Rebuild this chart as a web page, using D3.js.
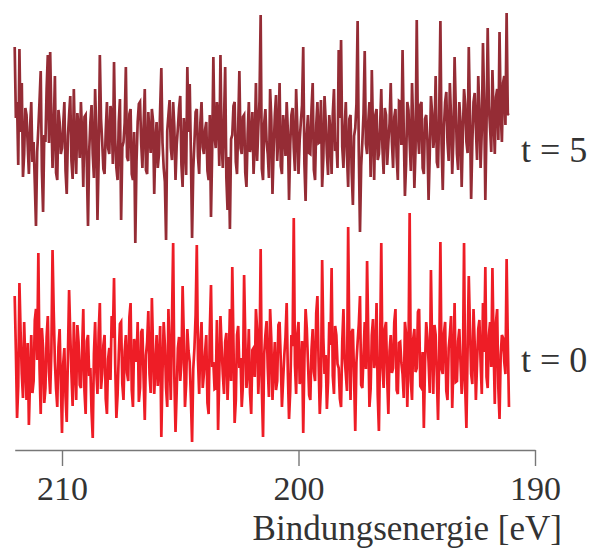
<!DOCTYPE html>
<html>
<head>
<meta charset="utf-8">
<script src="https://cdn.jsdelivr.net/npm/d3@7"></script>
<style>
  body { margin: 0; background: #fff; }
  text { font-family: "Liberation Serif", "Times New Roman", serif; fill: #333; }
</style>
</head>
<body>
<div id="chart"></div>
<script>
// binding energy grid: starts at 212.0 eV, 0.05 eV steps going down
const eStart = 212.0, eStep = 0.05;

// intensities (arb. units), one value per step
const t0Values = [
  184,129, 62, 94,197,148,106, 82,158,116, 80,137, 55,102,145, 87, 99,160,171,120,227,112, 66,152,132, 77, 92,143,164,108, 86,128,230,168,118, 91, 73,133,151, 98,
   47,116,132, 83, 58,124,190,146,106, 74,158,115, 80,155,138, 95, 92,130,171, 89, 66,139,145,104,112, 68, 42,126,158,109, 86,147,177, 91,106,135,145, 81, 66,121,
  132,100,164,142,202,115, 62, 85,125,156,158, 96, 80,129,145,107, 99,163,177, 90, 73,141,132,118,158, 78, 92,148,151,102, 60,125,138,169,106, 87,182,132, 86,113,
  145, 94,118,154, 43,108,158,135, 92, 73,171,124, 80,159,237,103, 48, 89,132,143, 99,117,194,145, 73, 96,151,129,118, 82, 38,111,132,165,235,120, 86,138,158, 92,
  106,128,145, 77, 66,150,195,113,118, 91, 92,160, 50,106,164,133,106, 86,138,147, 80,116,171, 99,213,137, 57, 80,145,154,112,122, 73, 95,205,142, 92,109,151, 87,
   66,130,132,103,171,151, 86,117,231, 92, 43,126,145,159,112, 83,171,141, 80,112,138, 90, 99,155,158,120, 73,100,125,143,177,107, 61, 89,145,134,262,115, 86,146,
  158, 96,106,139, 47,121,171,152,118, 85, 80,130,151,108, 99,167,184,117, 66, 94,220,142,106,125, 71, 98,158,135,212,104, 86,154,145,116,112, 81, 73,138,171,122,
  106, 89,253,133, 80,148,151,103, 49,118,138,156,184, 95, 92,126,158,111,219,145, 73, 91,145,161,112,120,177, 85, 49,132,237,113, 92,151,158,102, 66,129,145,107,
  112,158,171, 90, 86,137,138,117,106, 82,158,146, 73,124,267, 99, 80,141,151,108,112,168,171, 94, 92,128, 52,116,158,143,118, 87,210,133, 86,155,145,104, 60,122,
  238,111,106,147,158, 89, 80,132,145,164, 72,115,177, 98, 99,139,151,118, 86,107,237, 91, 52,130,204,152,106, 96,171,137, 80,117,151,160,118, 86,177,128,213,103,
   92,145,158,113,212,133, 76,158,171, 92, 61,125,145,142,118,106,221,139, 73
];
const t5Values = [
  213,142,158, 95,211,128,177, 83,106,152,145,115, 86,133,158, 98,118, 77, 34,108,132,159,189, 90, 48,125,118,171,205,117,208,146, 92,130,184, 87, 80,150,138,106,
  112,135,158, 89, 66,124,145,164, 99, 81,171,116, 86,147,132,102,158,126, 73,143,145, 94, 34,109,138,155,106, 82,171,130, 40,100,205,141,118, 91, 86,129,158,112,
  106,154,145, 96,198,121, 92, 80,138,161, 40,113,118,137,193,103, 99,146,151, 86, 80,128, 17, 98,138,156,158,116, 92,134,171, 90, 86,148,125,107,151,139, 66,120,
  138, 92,106,151,192,117, 92, 78, 20,129,145,160,112,100,158,133, 80,115,132,152,164, 95, 73,142,118, 85,193,128,176,107, 22, 91,118,148,151,103, 86,137,158,113,
  106,130,138, 89, 80,145, 43,109,203,124,112,158,145, 94,205,117, 92,139,193, 82, 50,103, 31,121,125,154,158, 98, 86,133,189,112,106,143,145, 87, 73,126,158,108,
  118,148, 86,116,177, 99,132,159,245, 91, 80,137,151,118,106, 82,171,141, 66,111,145,165, 99,125,177, 94, 86,145,132,104,158,129, 60,115,145,152,112, 89,171,134,
   86,120,138,155,213, 96, 59,126,145,107,106,151,177, 90, 80,135,158,117,118,160, 73,102,164,139,106, 85,145,128, 86,146,171,109,118, 92,210,142,220,113, 92,132,
  158,104, 73,141,145, 87, 55,124,132,156,239,108, 28, 94,118,147,209,116,106,138,158, 83,190,128, 80,145,151,100,106,133,171,112, 86,152,145, 95,118,137,177,118,
   92,143,151,103, 80,159,158,115,210,130, 64, 96,158,150,118, 89,177,135, 72,112,240,126,106,155,158, 92, 86,141,145,120, 60,106,164,147,112,125,184, 98, 92,148,
  239,116, 70,133,158,168,118, 99,177,143, 86,121,203,152,106, 90,158,138, 73,128,171,156,118,107,213,145, 61,117,158,167,132,100,184,150, 92,129,217,159, 60,134,
  232,154,132,108,190,143,106,163,171,120,228,148,118,177,184,135,247,146,145
];
const seriesNames = ["t = 0", "t = 5"];
const seriesColors = ["#ee1d26", "#952c35"];
const seriesOffsets = [0, 220];
const tickValues = [210, 200, 190];
const xTitle = "Bindungsenergie [eV]";

const W = 602, H = 549, axisY = 450;

const svg = d3.select("#chart").append("svg")
  .attr("width", W).attr("height", H);

const x = d3.scaleLinear().domain([212, 190]).range([14.7, 535]);
const y = d3.scaleLinear().domain([0, 480]).range([480, 0]);

const series = [t0Values, t5Values].map((vals, k) => ({
  name: seriesNames[k],
  color: seriesColors[k],
  points: vals.map((v, i) => ({e: eStart - i * eStep, v: v + seriesOffsets[k]}))
}));

const line = d3.line()
  .x(d => x(d.e))
  .y(d => y(d.v));

svg.selectAll(".spec")
  .data(series)
  .enter().append("path")
  .attr("class", "spec")
  .attr("d", d => line(d.points))
  .attr("fill", "none")
  .attr("stroke", d => d.color)
  .attr("stroke-width", 2.7);

// series labels on the right
svg.selectAll(".lbl")
  .data(series)
  .enter().append("text")
  .attr("class", "lbl")
  .attr("x", 521)
  .attr("y", (d, k) => k === 0 ? 372 : 162)
  .style("font-size", "36px")
  .text(d => d.name);

// x axis
const xAxis = d3.axisBottom(x)
  .tickValues(tickValues)
  .tickSize(16)
  .tickSizeOuter(0)
  .tickFormat(d3.format("d"));

const gx = svg.append("g")
  .attr("transform", `translate(0,${axisY})`)
  .call(xAxis);
gx.select(".domain").attr("stroke", "#777").attr("stroke-width", 1.4);
gx.selectAll(".tick line").attr("stroke", "#777").attr("stroke-width", 1.4);
gx.selectAll(".tick text")
  .attr("y", 50).attr("dy", null)
  .style("font-size", "34px")
  .style("font-family", "'Liberation Serif', serif")
  .attr("fill", "#333");

svg.append("text")
  .attr("x", 562)
  .attr("y", 540)
  .attr("text-anchor", "end")
  .style("font-size", "35px")
  .text(xTitle);
</script>
</body>
</html>
